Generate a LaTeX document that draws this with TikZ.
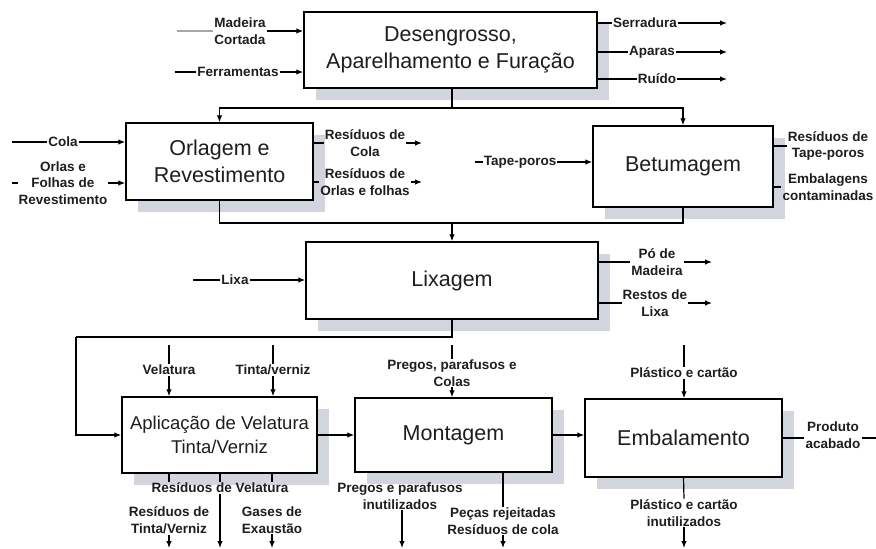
\documentclass[tikz,border=0pt]{standalone}
\usepackage{fontspec}
\setmainfont{Liberation Sans}
\usetikzlibrary{arrows.meta,shadows}
\definecolor{shadowc}{HTML}{D2D5DE}
\definecolor{txt}{HTML}{1E1E1E}
\begin{document}
\begin{tikzpicture}[x=1pt,y=-1pt,
 box/.style={draw=black, line width=1.5pt, fill=white, text=txt, align=center,
   font=\fontsize{21.5}{26.5}\selectfont, inner sep=0pt,
   drop shadow={shadow xshift=12pt, shadow yshift=-12pt, fill=shadowc, opacity=1}},
 lbl/.style={text=txt, align=center, font=\bfseries\fontsize{13.5}{16.5}\selectfont, inner sep=1pt},
 ln/.style={line width=1.2pt},
 arr/.style={ln, -{Latex[length=7pt,width=5.5pt]}}]
\fill[white] (0,0) rectangle (876,549);
\useasboundingbox (0,0) rectangle (876,549);

% boxes
\node[box, minimum width=293pt, minimum height=76pt] (des) at (450.5,50) {Desengrosso,\\Aparelhamento e Furação};
\node[box, minimum width=187pt, minimum height=77pt] (orl) at (219.5,161.5) {Orlagem e\\Revestimento};
\node[box, minimum width=180pt, minimum height=81pt] (bet) at (683,166.5) {Betumagem};
\node[box, minimum width=292pt, minimum height=77pt] (lix) at (452,280.5) {Lixagem};
\node[box, minimum width=195pt, minimum height=76pt, font=\fontsize{18.5}{24}\selectfont] (apl) at (219.5,435) {Aplicação de Velatura\\Tinta/Verniz};
\node[box, minimum width=197pt, minimum height=74pt] (mon) at (453.5,435) {Montagem};
\node[box, minimum width=197pt, minimum height=78pt] (emb) at (683.5,438) {Embalamento};

% labels
\node[lbl] (ml) at (240,31) {Madeira\\Cortada};
\node[lbl] (fe) at (238,72) {Ferramentas};
\node[lbl] (sr) at (645,23) {Serradura};
\node[lbl] (ap) at (652,52) {Aparas};
\node[lbl] (ru) at (657,79) {Ruído};
\node[lbl] (co) at (63,142) {Cola};
\node[lbl] (of) at (63,183) {Orlas e\\Folhas de\\Revestimento};
\node[lbl] (rc) at (365,143) {Resíduos de\\Cola};
\node[lbl] (ro) at (365,182) {Resíduos de\\Orlas e folhas};
\node[lbl] (tp) at (520,162) {Tape-poros};
\node[lbl] (rt) at (828,146) {Resíduos de\\Tape-poros};
\node[lbl] (ec) at (828,187) {Embalagens\\contaminadas};
\node[lbl] (lx) at (235,280) {Lixa};
\node[lbl] (pm) at (657,262) {Pó de\\Madeira};
\node[lbl] (rl) at (655,303) {Restos de\\Lixa};
\node[lbl] (vl) at (169,370) {Velatura};
\node[lbl] (tv) at (273,370) {Tinta/verniz};
\node[lbl] (pp) at (452,373) {Pregos, parafusos e\\Colas};
\node[lbl] (pc) at (684,373) {Plástico e cartão};
\node[lbl] (pa) at (833,435) {Produto\\acabado};
\node[lbl] (pi) at (684,513) {Plástico e cartão\\inutilizados};
\node[lbl] (pr) at (400,496) {Pregos e parafusos\\inutilizados};
\node[lbl] (pj) at (503,521) {Peças rejeitadas\\Resíduos de cola};
\node[lbl] (rv) at (220,488) {Resíduos de Velatura};
\node[lbl] (rtv) at (169,520) {Resíduos de\\Tinta/Verniz};
\node[lbl] (ge) at (272,520) {Gases de\\Exaustão};

% free ends
\coordinate (mlS) at (177,31);
\coordinate (feS) at (175,72);
\coordinate (srE) at (727,23);
\coordinate (apE) at (727,52);
\coordinate (ruE) at (727,79);
\coordinate (coS) at (12,142);
\coordinate (ofS) at (12,183);
\coordinate (rcE) at (422,143);
\coordinate (roE) at (422,182);
\coordinate (tpS) at (475,162);
\coordinate (lxS) at (193,280);
\coordinate (pmE) at (712,262);
\coordinate (rlE) at (712,303);
\coordinate (vlS) at (169,345);
\coordinate (tvS) at (273,345);
\coordinate (ppS) at (452,345);
\coordinate (pcS) at (684,345);
\coordinate (paE) at (876,438);
\coordinate (piE) at (684,548);
\coordinate (prE) at (402,548);
\coordinate (pjE) at (503,548);
\coordinate (rvE) at (220,548);
\coordinate (rtvE) at (169,548);
\coordinate (geE) at (272,548);
\coordinate (j1) at (452,108);
\coordinate (j2) at (452,223);
\coordinate (j3) at (76,337);

% Desengrosso
\draw[ln, draw=gray!70] (mlS) -- (ml.west);
\draw[arr] (ml.east) -- (ml.east -| des.west);
\draw[ln] (feS) -- (fe.west);
\draw[arr] (fe.east) -- (fe.east -| des.west);
\draw[ln] (des.east |- sr) -- (sr.west);
\draw[arr] (sr.east) -- (sr.east -| srE);
\draw[ln] (des.east |- ap) -- (ap.west);
\draw[arr] (ap.east) -- (ap.east -| apE);
\draw[ln] (des.east |- ru) -- (ru.west);
\draw[arr] (ru.east) -- (ru.east -| ruE);
\draw[ln] (des.south -| j1) -- (j1);
\draw[arr] (j1) -| (orl.north);
\draw[arr] (j1) -| (bet.north);

% Orlagem
\draw[ln] (coS) -- (co.west);
\draw[arr] (co.east) -- (co.east -| orl.west);
\draw[ln] (ofS) -- (of.west);
\draw[arr] (of.east) -- (of.east -| orl.west);
\draw[ln] (orl.east |- rc) -- (rc.west);
\draw[arr] (rc.east) -- (rc.east -| rcE);
\draw[ln] (orl.east |- ro) -- (ro.west);
\draw[arr] (ro.east) -- (ro.east -| roE);

% Betumagem
\draw[ln] (tpS) -- (tp.west);
\draw[arr] (tp.east) -- (tp.east -| bet.west);
\draw[ln] (bet.east |- rt) -- (rt.west);
\draw[ln] (bet.east |- ec) -- (ec.west);

% to Lixagem
\draw[ln] (orl.south) |- (j2);
\draw[ln] (bet.south) |- (j2);
\draw[arr] (j2) -- (lix.north);
\draw[ln] (lxS) -- (lx.west);
\draw[arr] (lx.east) -- (lx.east -| lix.west);
\draw[ln] (lix.east |- pm) -- (pm.west);
\draw[arr] (pm.east) -- (pm.east -| pmE);
\draw[ln] (lix.east |- rl) -- (rl.west);
\draw[arr] (rl.east) -- (rl.east -| rlE);

% Lixagem to Aplicacao
\draw[ln] (lix.south) |- (j3);
\draw[arr] (j3) |- (apl.west);
\draw[ln] (vlS) -- (vl.north);
\draw[arr] (vl.south) -- (vl.south |- apl.north);
\draw[ln] (tvS) -- (tv.north);
\draw[arr] (tv.south) -- (tv.south |- apl.north);
\draw[ln] (apl.south -| rtv) -- (rtv |- rv.north);
\draw[ln] (apl.south -| rv) -- (rv.north);
\draw[ln] (apl.south -| ge) -- (ge |- rv.north);
\draw[arr] (rv.south) -- (rvE);
\draw[arr] (rtv.south) -- (rtvE);
\draw[arr] (ge.south) -- (geE);

% Montagem
\draw[arr] (apl.east) -- (apl.east -| mon.west);
\draw[ln] (ppS) -- (pp.north);
\draw[arr] (pp.south) -- (pp.south |- mon.north);
\draw[arr] (pr.south -| prE) -- (prE);
\draw[ln] (mon.south -| pj) -- (pj.north);
\draw[arr] (pj.south) -- (pjE);

% Embalamento
\draw[arr] (mon.east) -- (mon.east -| emb.west);
\draw[ln] (pcS) -- (pc.north);
\draw[arr] (pc.south) -- (pc.south |- emb.north);
\draw[ln] (emb.east |- paE) -- (pa.west |- paE);
\draw[ln] (pa.east |- paE) -- (paE);
\draw[ln] (emb.south) -- (pi.north);
\draw[arr] (pi.south) -- (piE);
\end{tikzpicture}
\end{document}
